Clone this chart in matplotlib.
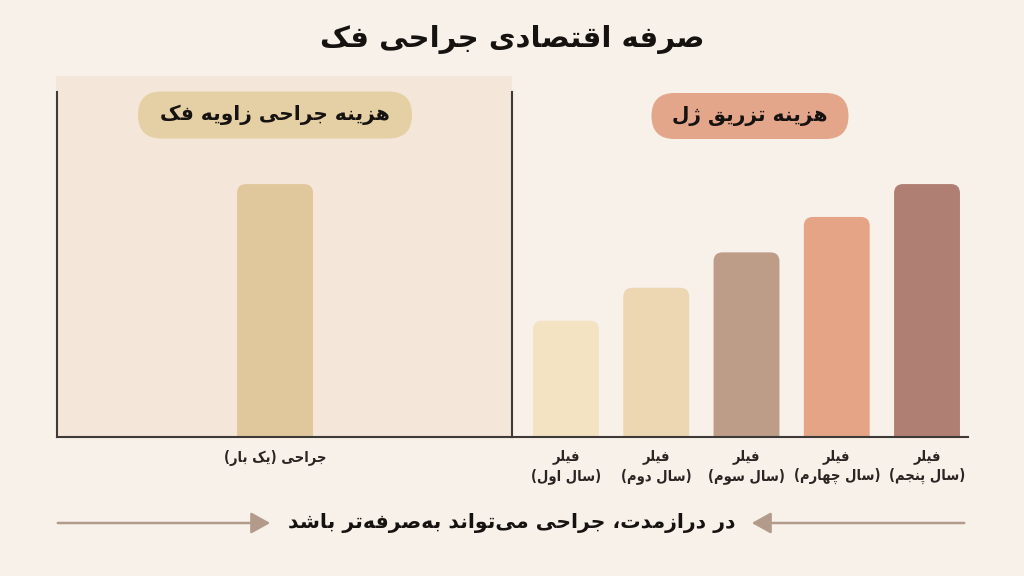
import matplotlib
matplotlib.use("Agg")
import matplotlib.pyplot as plt
from matplotlib.patches import FancyBboxPatch, Rectangle, FancyArrowPatch
from matplotlib.transforms import IdentityTransform

# داده‌ها
title = "صرفه اقتصادی جراحی فک"
surgery_label = "جراحی (یک بار)"
surgery_cost = [100]
filler_labels = ["فیلر\n(سال اول)", "فیلر\n(سال دوم)", "فیلر\n(سال سوم)",
                 "فیلر\n(سال چهارم)", "فیلر\n(سال پنجم)"]
filler_costs = [46, 59, 73, 87, 100]
left_header = "هزینه جراحی زاویه فک"
right_header = "هزینه تزریق ژل"
footer = "در درازمدت، جراحی می\u200cتواند به\u200cصرفه\u200cتر باشد"

# رنگ‌ها
bg = "#F7F1EA"
panel_bg = "#F4E6D9"
surgery_color = "#E0C89C"
filler_colors = ["#F3E3C3", "#EDD6B2", "#BD9D88", "#E5A486", "#B07F73"]

# شکل‌دهی حروف فارسی (isolated, final, initial, medial)
FORMS = {
    "ا": (0xFE8D, 0xFE8E), "ب": (0xFE8F, 0xFE90, 0xFE91, 0xFE92),
    "ت": (0xFE95, 0xFE96, 0xFE97, 0xFE98), "ث": (0xFE99, 0xFE9A, 0xFE9B, 0xFE9C),
    "ج": (0xFE9D, 0xFE9E, 0xFE9F, 0xFEA0), "ح": (0xFEA1, 0xFEA2, 0xFEA3, 0xFEA4),
    "خ": (0xFEA5, 0xFEA6, 0xFEA7, 0xFEA8), "د": (0xFEA9, 0xFEAA),
    "ذ": (0xFEAB, 0xFEAC), "ر": (0xFEAD, 0xFEAE), "ز": (0xFEAF, 0xFEB0),
    "س": (0xFEB1, 0xFEB2, 0xFEB3, 0xFEB4), "ش": (0xFEB5, 0xFEB6, 0xFEB7, 0xFEB8),
    "ص": (0xFEB9, 0xFEBA, 0xFEBB, 0xFEBC), "ض": (0xFEBD, 0xFEBE, 0xFEBF, 0xFEC0),
    "ط": (0xFEC1, 0xFEC2, 0xFEC3, 0xFEC4), "ظ": (0xFEC5, 0xFEC6, 0xFEC7, 0xFEC8),
    "ع": (0xFEC9, 0xFECA, 0xFECB, 0xFECC), "غ": (0xFECD, 0xFECE, 0xFECF, 0xFED0),
    "ف": (0xFED1, 0xFED2, 0xFED3, 0xFED4), "ق": (0xFED5, 0xFED6, 0xFED7, 0xFED8),
    "ل": (0xFEDD, 0xFEDE, 0xFEDF, 0xFEE0), "م": (0xFEE1, 0xFEE2, 0xFEE3, 0xFEE4),
    "ن": (0xFEE5, 0xFEE6, 0xFEE7, 0xFEE8), "ه": (0xFEE9, 0xFEEA, 0xFEEB, 0xFEEC),
    "و": (0xFEED, 0xFEEE), "پ": (0xFB56, 0xFB57, 0xFB58, 0xFB59),
    "چ": (0xFB7A, 0xFB7B, 0xFB7C, 0xFB7D), "ژ": (0xFB8A, 0xFB8B),
    "ک": (0xFB8E, 0xFB8F, 0xFB90, 0xFB91), "گ": (0xFB92, 0xFB93, 0xFB94, 0xFB95),
    "ی": (0xFBFC, 0xFBFD, 0xFBFE, 0xFBFF),
}
MIRROR = {"(": ")", ")": "("}


def fa(text):
    lines = []
    for line in text.split("\n"):
        out = []
        n = len(line)
        for i, ch in enumerate(line):
            if ch not in FORMS:
                if ch != "\u200c":
                    out.append(MIRROR.get(ch, ch))
                continue
            f = FORMS[ch]
            prev = line[i - 1] if i > 0 else ""
            nxt = line[i + 1] if i + 1 < n else ""
            join_prev = prev in FORMS and len(FORMS[prev]) == 4
            join_next = nxt in FORMS and len(f) == 4
            if join_prev and join_next:
                out.append(chr(f[3]))
            elif join_prev:
                out.append(chr(f[1]))
            elif join_next:
                out.append(chr(f[2]))
            else:
                out.append(chr(f[0]))
        lines.append("".join(out[::-1]))
    return "\n".join(lines)


def round_bars(ax, bars, radius_px):
    # جایگزینی میله‌ها با مستطیل‌های گوشه‌گرد
    fig = ax.figure
    fig.canvas.draw()
    x0, x1 = ax.get_xlim()
    y0, y1 = ax.get_ylim()
    bb = ax.get_window_extent()
    sx = bb.width / (x1 - x0)
    sy = bb.height / (y1 - y0)
    for b in bars:
        x, w, h = b.get_x(), b.get_width(), b.get_height()
        r = radius_px / sx
        p = FancyBboxPatch((x, -20), w, h + 20,
                           boxstyle=f"round,pad=0,rounding_size={r}",
                           mutation_aspect=sx / sy,
                           facecolor=b.get_facecolor(), edgecolor="none",
                           zorder=2, clip_on=True)
        b.remove()
        ax.add_patch(p)


def pill(fig, cx, cy, w, h, color, text):
    # برچسب قرصی‌شکل، در مختصات پیکسلی (از بالا)
    y = 576 - cy
    fig.patches.append(FancyBboxPatch((cx - w / 2, y - h / 2), w, h,
                                      boxstyle=f"round,pad=0,rounding_size={h / 2}",
                                      transform=IdentityTransform(),
                                      facecolor=color, edgecolor="none", zorder=3))
    fig.text(cx / 1024, y / 576, fa(text), ha="center", va="center",
             fontsize=14.5, fontweight="bold", color="#151210", zorder=4)


plt.rcParams["font.family"] = ["DejaVu Sans"]
fig = plt.figure(figsize=(10.24, 5.76), dpi=100, facecolor=bg)

# پس‌زمینه پنل چپ
fig.patches.append(Rectangle((56 / 1024, (576 - 437) / 576), 456 / 1024, 361 / 576,
                             transform=fig.transFigure, facecolor=panel_bg,
                             edgecolor="none", zorder=-1))

ymax = 136.4
axL = fig.add_axes([57 / 1024, (576 - 437) / 576, 455 / 1024, 345 / 576])
axR = fig.add_axes([512 / 1024, (576 - 437) / 576, 456 / 1024, 345 / 576])

for ax in (axL, axR):
    ax.set_facecolor("none")
    ax.set_ylim(0, ymax)
    ax.set_yticks([])
    for s in ("top", "right"):
        ax.spines[s].set_visible(False)
    ax.spines["left"].set_color("#3E3A38")
    ax.spines["bottom"].set_color("#3E3A38")
    ax.spines["left"].set_linewidth(1.5)
    ax.spines["bottom"].set_linewidth(1.5)
    ax.tick_params(axis="x", length=0, pad=9)

barsL = axL.bar([0], surgery_cost, width=0.835, color=surgery_color)
axL.set_xlim(-2.396, 2.604)
axL.set_xticks([0])
axL.set_xticklabels([fa(surgery_label)], fontsize=10.5, fontweight="bold",
                    fontstretch="condensed", color="#2A2522")

xs = list(range(len(filler_costs)))
barsR = axR.bar(xs, filler_costs, width=0.73, color=filler_colors)
axR.set_xlim(-0.598, 4.454)
axR.set_xticks(xs)
axR.set_xticklabels([fa(l) for l in filler_labels], fontsize=10.5, fontweight="bold",
                    fontstretch="condensed", color="#2A2522", linespacing=1.3)

round_bars(axL, barsL, 9)
round_bars(axR, barsR, 9)

# عنوان
fig.text(0.5, 1 - 40 / 576, fa(title), ha="center", va="center",
         fontsize=21, fontweight="bold", color="#151210")

# برچسب‌های بالای پنل‌ها
pill(fig, 275, 115, 274, 47, "#E5CFA4", left_header)
pill(fig, 750, 116, 197, 46, "#E3A68B", right_header)

# پیام پایین با فلش‌ها
fig.text(0.5, 1 - 523 / 576, fa(footer), ha="center", va="center",
         fontsize=14.7, fontweight="bold", color="#151210")
arrow_kw = dict(arrowstyle="-|>,head_length=0.9,head_width=0.5",
                color="#B39B8B", lw=1.8, mutation_scale=13)
fig.patches.append(FancyArrowPatch(
    (55 / 1024, 1 - 523 / 576), (273 / 1024, 1 - 523 / 576),
    transform=fig.transFigure, **arrow_kw))
fig.patches.append(FancyArrowPatch(
    (967 / 1024, 1 - 523 / 576), (749 / 1024, 1 - 523 / 576),
    transform=fig.transFigure, **arrow_kw))

fig.savefig("out.png", dpi=100, facecolor=bg)
